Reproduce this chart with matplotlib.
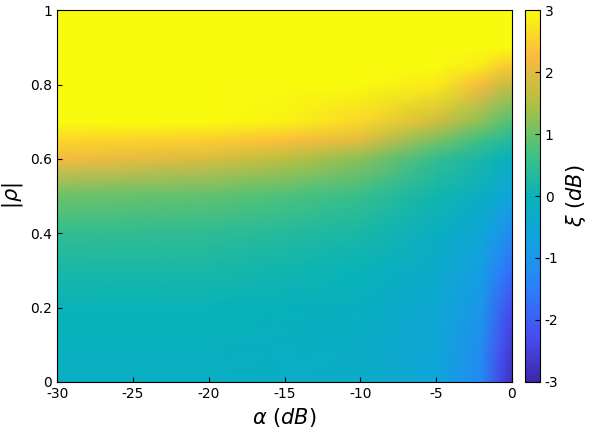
import numpy as np
import matplotlib
matplotlib.use("Agg")
import matplotlib.pyplot as plt
from matplotlib.colors import LinearSegmentedColormap

plt.rcParams["axes.unicode_minus"] = False

# grid: xi (dB) vs alpha and |rho|
alpha = [-30, -20, -15, -10, -5, -2, -0.7, 0]
rho = [0.0, 0.1, 0.2, 0.3, 0.4, 0.5, 0.6, 0.65, 0.7, 0.8, 0.85, 0.9, 1.0]
xi = [
    [-0.2, -0.2, -0.25, -0.3, -0.6, -1.3, -2.4, -2.8],
    [-0.1, -0.1, -0.15, -0.25, -0.55, -1.2, -2.2, -2.6],
    [0.0, 0.0, -0.05, -0.15, -0.5, -1.0, -1.9, -2.3],
    [0.2, 0.2, 0.1, 0.0, -0.35, -0.8, -1.5, -1.8],
    [0.5, 0.45, 0.35, 0.2, -0.15, -0.55, -1.0, -1.3],
    [1.0, 0.9, 0.75, 0.55, 0.1, -0.2, -0.5, -0.7],
    [2.2, 1.9, 1.6, 1.2, 0.5, 0.2, 0.0, -0.1],
    [2.6, 2.5, 2.3, 2.0, 1.1, 0.6, 0.4, 0.3],
    [3.0, 3.0, 2.9, 2.6, 1.8, 1.2, 0.9, 0.8],
    [3.0, 3.0, 3.0, 3.0, 2.8, 2.2, 1.8, 1.7],
    [3.0, 3.0, 3.0, 3.0, 3.0, 2.8, 2.5, 2.4],
    [3.0, 3.0, 3.0, 3.0, 3.0, 3.0, 3.0, 3.0],
    [3.0, 3.0, 3.0, 3.0, 3.0, 3.0, 3.0, 3.0],
]

parula = LinearSegmentedColormap.from_list("parula", [
    (0.0, (0.24, 0.15, 0.66)),
    (0.12, (0.28, 0.30, 0.94)),
    (0.25, (0.17, 0.50, 0.98)),
    (0.38, (0.07, 0.64, 0.88)),
    (0.5, (0.03, 0.70, 0.72)),
    (0.62, (0.27, 0.76, 0.50)),
    (0.75, (0.70, 0.75, 0.25)),
    (0.88, (0.99, 0.73, 0.25)),
    (1.0, (0.976, 0.984, 0.055)),
])

fig = plt.figure(figsize=(5.96, 4.44), dpi=100)
ax = fig.add_axes([0.096, 0.14, 0.763, 0.837])
A, R = np.meshgrid(alpha, rho)
m = ax.pcolormesh(A, R, np.array(xi), cmap=parula, vmin=-3, vmax=3, shading="gouraud")
ax.set_xlim(-30, 0)
ax.set_ylim(0, 1)
ax.set_xticks([-30, -25, -20, -15, -10, -5, 0])
ax.set_yticks([0, 0.2, 0.4, 0.6, 0.8, 1])
ax.set_yticklabels(["0", "0.2", "0.4", "0.6", "0.8", "1"])
ax.tick_params(direction="in", labelsize=10)
ax.set_xlabel(r"$\alpha\ (dB)$", fontsize=15)
ax.set_ylabel(r"$|\rho|$", fontsize=15)

cax = fig.add_axes([0.881, 0.14, 0.025, 0.837])
cb = fig.colorbar(m, cax=cax, ticks=[-3, -2, -1, 0, 1, 2, 3])
cb.ax.set_yticklabels(["-3", "-2", "-1", "0", "1", "2", "3"])
cb.ax.tick_params(direction="in", labelsize=10)
cb.set_label(r"$\xi\ (dB)$", fontsize=15)

fig.savefig("out.png", dpi=100)
